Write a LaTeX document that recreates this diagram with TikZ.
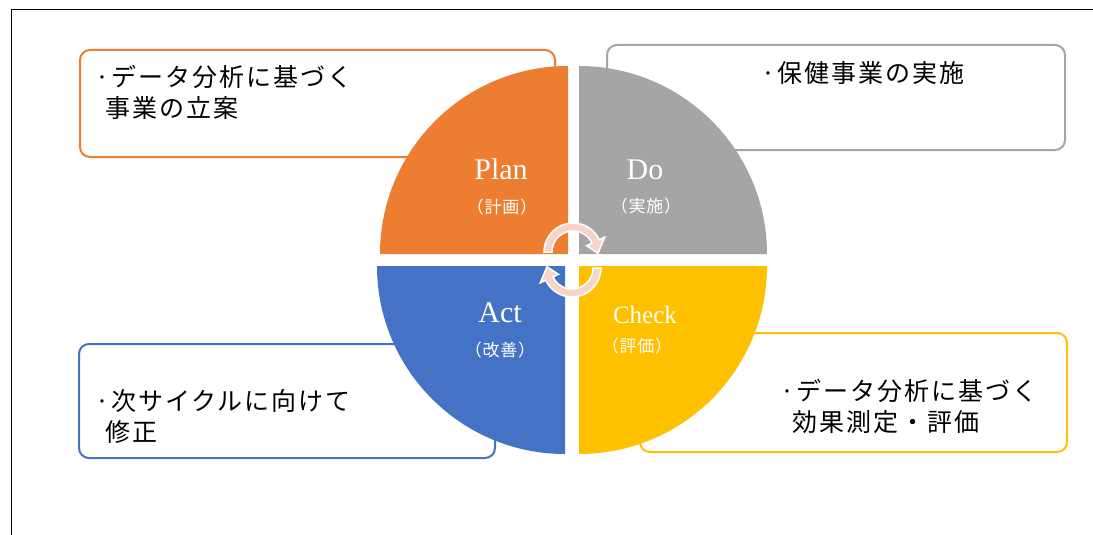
\documentclass[tikz,border=0pt]{standalone}
\usepackage{fontspec}
\usepackage{xcolor}
\setmainfont{Liberation Serif}
\newfontfamily\jpgothic[LetterSpace=8]{Noto Sans CJK JP}
\newfontfamily\jpplain[LetterSpace=4]{Noto Sans CJK JP}
\definecolor{planorange}{RGB}{237,125,49}
\definecolor{dogray}{RGB}{165,165,165}
\definecolor{checkyellow}{RGB}{255,192,0}
\definecolor{actblue}{RGB}{68,114,196}
\definecolor{cyclepink}{RGB}{246,212,200}

\begin{document}
\begin{tikzpicture}[x=1pt, y=-1pt,
        taskbox/.style={draw=#1, line width=2pt, rounded corners=10pt, fill=white},
        tasktext/.style={font=\jpgothic\fontsize{25}{31}\selectfont, align=left, inner sep=0pt},
        phase/.style={text=white, inner sep=0pt},
        phasejp/.style={text=white, font=\jpplain\fontsize{17}{19}\selectfont, inner sep=0pt},
        cyclearrow/.style={fill=cyclepink, draw=white, line width=1.5pt}]
        \useasboundingbox (0, 0) rectangle (1093, 535);
        \draw[line width=1pt] (11, 535) -- (11, 10) -- (1093, 10);

        % boxes behind the circle
        \draw[taskbox=planorange] (80, 50) rectangle (555, 157);
        \draw[taskbox=dogray] (607, 45) rectangle (1065, 150);
        \draw[taskbox=checkyellow] (640, 333) rectangle (1067, 452);
        \draw[taskbox=actblue] (79, 344) rectangle (495, 458);

        % four quarters
        \foreach \cx/\cy/\a/\col in {568/254/180/planorange, 579/254/270/dogray,
                                     579/266/0/checkyellow, 565/266/90/actblue}
            \fill[\col] (\cx, \cy) -- ++(\a:188) arc[start angle=\a, end angle=\a+90, radius=188] -- cycle;

        \node[phase, font=\fontsize{30}{32}\selectfont] (plan) at (501, 169) {Plan};
        \node[phasejp] (planjp) at (502, 207) {（計画）};
        \node[phase, font=\fontsize{30}{32}\selectfont] (do) at (645, 170) {Do};
        \node[phasejp] (dojp) at (646, 206) {（実施）};
        \node[phase, font=\fontsize{30}{32}\selectfont] (act) at (500, 313) {Act};
        \node[phasejp] (actjp) at (500, 350) {（改善）};
        \node[phase, font=\fontsize{25}{27}\selectfont] (check) at (645, 315) {Check};
        \node[phasejp] (checkjp) at (637, 346) {（評価）};

        % cycle arrows in the middle
        \path[cyclearrow, shift={(573, 252)}] (180:29) arc[start angle=180, end angle=335, radius=29]
            -- (335:35) -- (3:25) -- (335:15) -- (335:21) arc[start angle=335, end angle=180, radius=21] -- cycle;
        \path[cyclearrow, shift={(572, 268)}] (0:29) arc[start angle=0, end angle=155, radius=29]
            -- (155:35) -- (183:25) -- (155:15) -- (155:21) arc[start angle=155, end angle=0, radius=21] -- cycle;

        \node[tasktext, anchor=west] (plantext) at (95, 92) {·データ分析に基づく\\\hspace*{10pt}事業の立案};
        \node[tasktext] (dotext) at (863, 73) {·保健事業の実施};
        \node[tasktext, anchor=west] (checktext) at (780, 406) {·データ分析に基づく\\\hspace*{12pt}効果測定・評価};
        \node[tasktext, anchor=west] (acttext) at (95, 416) {·次サイクルに向けて\\\hspace*{10pt}修正};
\end{tikzpicture}
\end{document}
